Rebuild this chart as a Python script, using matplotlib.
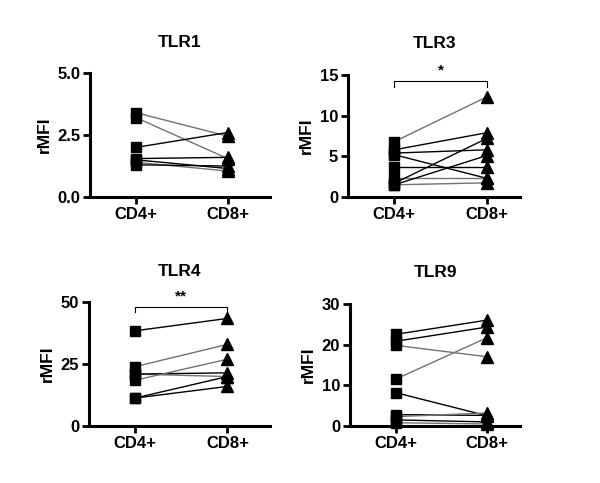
import matplotlib.pyplot as plt

plt.rcParams['font.family'] = ['Liberation Sans', 'DejaVu Sans']
plt.rcParams['font.weight'] = 'bold'

groups = ['CD4+', 'CD8+']

# TLR1
tlr1_cd4 = [3.4, 3.2, 2.0, 1.55, 1.5, 1.4, 1.3]
tlr1_cd8 = [2.45, 1.55, 2.6, 1.6, 1.15, 1.05, 1.25]
tlr1_gray = [1, 1, 0, 0, 0, 1, 0]

# TLR3
tlr3_cd4 = [6.8, 5.8, 5.4, 5.2, 3.7, 2.3, 1.7, 1.5, 1.5]
tlr3_cd8 = [12.3, 7.9, 5.8, 2.3, 3.7, 2.3, 7.2, 5.1, 1.75]
tlr3_gray = [1, 0, 0, 0, 0, 1, 0, 0, 1]

# TLR4
tlr4_cd4 = [38.5, 24.0, 21.0, 21.0, 18.5, 11.3, 11.3]
tlr4_cd8 = [43.5, 33.0, 20.0, 21.5, 27.0, 20.0, 16.0]
tlr4_gray = [0, 1, 1, 0, 1, 0, 0]

# TLR9
tlr9_cd4 = [22.5, 20.8, 19.8, 11.5, 8.2, 2.8, 2.3, 1.5, 0.8]
tlr9_cd8 = [26.0, 24.3, 17.0, 21.7, 2.5, 2.6, 3.2, 1.0, 0.5]
tlr9_gray = [0, 0, 1, 1, 0, 0, 1, 0, 1]

panels = [
    ('TLR1', tlr1_cd4, tlr1_cd8, tlr1_gray, [0, 2.5, 5.0], ['0.0', '2.5', '5.0'], None,
     [0.150, 0.592, 0.300, 0.257], 1.46),
    ('TLR3', tlr3_cd4, tlr3_cd8, tlr3_gray, [0, 5, 10, 15], ['0', '5', '10', '15'], ('*', 14.2, 13.5),
     [0.580, 0.592, 0.287, 0.253], 1.36),
    ('TLR4', tlr4_cd4, tlr4_cd8, tlr4_gray, [0, 25, 50], ['0', '25', '50'], ('**', 48.0, 46.0),
     [0.148, 0.118, 0.302, 0.256], 1.46),
    ('TLR9', tlr9_cd4, tlr9_cd8, tlr9_gray, [0, 10, 20, 30], ['0', '10', '20', '30'], None,
     [0.583, 0.118, 0.284, 0.253], 1.36),
]

fig = plt.figure(figsize=(6, 4.83), dpi=100)

for title, a, b, gray, yt, ytl, sig, rect, xr in panels:
    ax = fig.add_axes(rect)
    for v1, v2, g in zip(a, b, gray):
        ax.plot([0, 1], [v1, v2], color='0.45' if g else 'black', lw=1.0, zorder=2)
    ax.plot([0] * len(a), a, 's', color='black', ms=7.5, clip_on=False, zorder=3)
    ax.plot([1] * len(b), b, '^', color='black', ms=8, clip_on=False, zorder=3)
    if sig:
        txt, yb, yd = sig
        ax.plot([0, 0, 1, 1], [yd, yb, yb, yd], color='black', lw=0.8, clip_on=False)
        ax.text(0.5, yb + (yt[-1] * 0.03), txt, ha='center', va='bottom', fontsize=11)
    ax.set_xlim(-0.5, xr)
    ax.set_ylim(0, yt[-1])
    ax.set_yticks(yt)
    ax.set_yticklabels(ytl)
    ax.set_xticks([0, 1])
    ax.set_xticklabels(groups)
    for s in ['top', 'right']:
        ax.spines[s].set_visible(False)
    for s in ['left', 'bottom']:
        ax.spines[s].set_linewidth(2.2)
    ax.tick_params(width=2.0, length=5, labelsize=12, pad=2)
    ax.set_ylabel('rMFI', fontsize=12.5, fontweight='bold', labelpad=4)
    ax.set_title(title, fontsize=12.5, fontweight='bold', pad=19)

fig.savefig('out.png', dpi=100)
